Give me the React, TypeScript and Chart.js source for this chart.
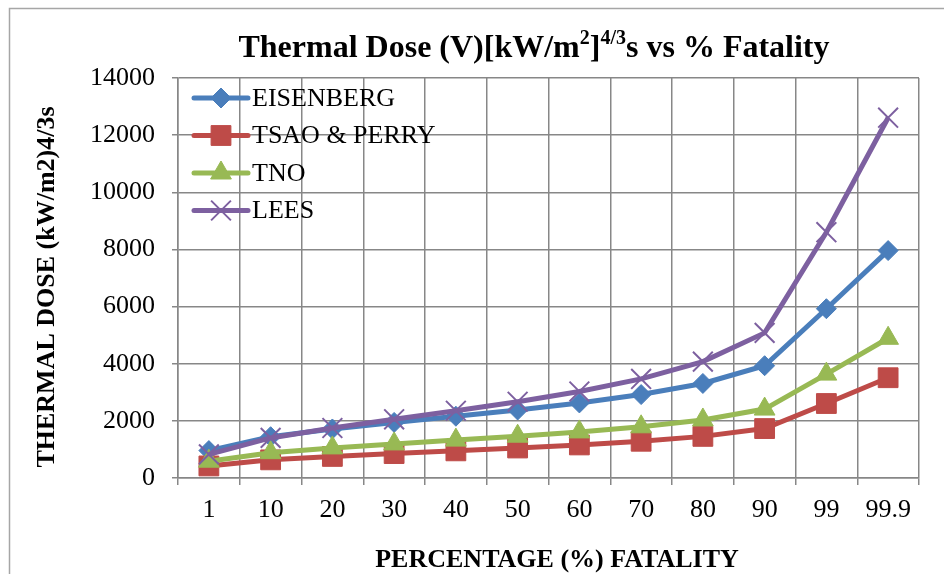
import React, { useEffect, useRef } from "react";
import { Chart, registerables } from "chart.js";
import { drawPoint } from "chart.js/helpers";

Chart.register(...registerables);

// Percentage fatality categories on the x axis
const categories = ["1", "10", "20", "30", "40", "50", "60", "70", "80", "90", "99", "99.9"];

// Thermal dose, (kW/m2)^4/3 s, for each probit model
const eisenberg = [960, 1445, 1716, 1945, 2162, 2380, 2628, 2920, 3309, 3930, 5925, 7960];
const tsaoPerry = [422, 635, 755, 855, 950, 1050, 1157, 1286, 1457, 1730, 2607, 3510];
const tno = [588, 886, 1053, 1193, 1326, 1463, 1613, 1792, 2031, 2412, 3636, 4890];
const lees = [828, 1403, 1750, 2055, 2354, 2669, 3027, 3467, 4073, 5078, 8602, 12610];

const seriesNames = ["EISENBERG", "TSAO & PERRY", "TNO", "LEES"];

const yMin = 0;
const yMax = 14000;
const yStep = 2000;

const SERIF = "'Liberation Serif', 'Times New Roman', serif";
const GRID = "#878787";

const titleParts = [
  { text: "Thermal Dose (V)[kW/m", sup: false },
  { text: "2", sup: true },
  { text: "]", sup: false },
  { text: "4/3", sup: true },
  { text: "s vs % Fatality", sup: false },
];

const decorPlugin = {
  id: "decor",
  afterDraw(chart: any) {
    const ctx: CanvasRenderingContext2D = chart.ctx;
    const area = chart.chartArea;
    ctx.save();

    // outer frame
    ctx.strokeStyle = "#A6A6A6";
    ctx.lineWidth = 1.5;
    ctx.beginPath();
    ctx.moveTo(9.5, chart.height + 5);
    ctx.lineTo(9.5, 8.5);
    ctx.lineTo(chart.width + 5, 8.5);
    ctx.stroke();

    // chart title with superscripts
    const mainFont = `bold 32px ${SERIF}`;
    const supFont = `bold 20px ${SERIF}`;
    let total = 0;
    const widths = titleParts.map((p) => {
      ctx.font = p.sup ? supFont : mainFont;
      const w = ctx.measureText(p.text).width;
      total += w;
      return w;
    });
    let x = 534 - total / 2;
    const base = 57;
    ctx.fillStyle = "#000";
    ctx.textAlign = "left";
    ctx.textBaseline = "alphabetic";
    titleParts.forEach((p, i) => {
      ctx.font = p.sup ? supFont : mainFont;
      ctx.fillText(p.text, x, p.sup ? base - 13 : base);
      x += widths[i];
    });

    // y axis title
    ctx.save();
    ctx.translate(47, (area.top + area.bottom) / 2 + 9);
    ctx.rotate(-Math.PI / 2);
    ctx.font = `bold 26px ${SERIF}`;
    ctx.textAlign = "center";
    ctx.textBaseline = "middle";
    ctx.fillText("THERMAL DOSE (kW/m2)4/3s", 0, 0);
    ctx.restore();

    // x axis title
    ctx.font = `bold 26px ${SERIF}`;
    ctx.textAlign = "center";
    ctx.textBaseline = "alphabetic";
    ctx.fillText("PERCENTAGE (%) FATALITY", 557, 567);

    // legend inside the plot area
    chart.data.datasets.forEach((ds: any, i: number) => {
      const y = 98 + i * 37.5;
      ctx.strokeStyle = ds.borderColor;
      ctx.lineWidth = ds.borderWidth;
      ctx.lineCap = "round";
      ctx.beginPath();
      ctx.moveTo(194, y);
      ctx.lineTo(248, y);
      ctx.stroke();
      ctx.fillStyle = ds.pointBackgroundColor;
      ctx.strokeStyle = ds.pointBorderColor;
      ctx.lineWidth = ds.pointBorderWidth;
      ctx.lineCap = "butt";
      drawPoint(ctx, { pointStyle: ds.pointStyle, radius: ds.pointRadius, rotation: 0, borderWidth: ds.pointBorderWidth }, 221, y);
      ctx.fillStyle = "#000";
      ctx.font = `26px ${SERIF}`;
      ctx.textAlign = "left";
      ctx.textBaseline = "middle";
      ctx.fillText(seriesNames[i], 252, y + 1);
    });

    ctx.restore();
  },
};

function series(label: string, data: number[], color: string, style: string, radius: number, pbw: number, order: number) {
  return {
    label,
    data,
    borderColor: color,
    backgroundColor: color,
    borderWidth: 5,
    tension: 0,
    pointStyle: style,
    pointRadius: radius,
    pointHoverRadius: radius,
    pointBackgroundColor: color,
    pointBorderColor: color,
    pointBorderWidth: pbw,
    order,
  };
}

export default function App() {
  const ref = useRef<HTMLCanvasElement | null>(null);

  useEffect(() => {
    if (!ref.current) return;
    const chart = new Chart(ref.current, {
      type: "line",
      data: {
        labels: categories,
        datasets: [
          series(seriesNames[0], eisenberg, "#4A7EBB", "rectRot", 10, 1, 3),
          series(seriesNames[1], tsaoPerry, "#BE4B48", "rect", 14, 1, 2),
          series(seriesNames[2], tno, "#98B954", "triangle", 12, 1, 1),
          series(seriesNames[3], lees, "#7D60A0", "crossRot", 14, 2, 0),
        ] as any,
      },
      options: {
        animation: false,
        responsive: false,
        layout: { padding: { left: 0, top: 78, right: 25, bottom: 0 } },
        plugins: {
          legend: { display: false },
          title: { display: false },
          tooltip: { enabled: false },
        },
        scales: {
          x: {
            type: "category",
            offset: true,
            grid: { offset: true, color: GRID, lineWidth: 1.5, tickLength: 7 },
            border: { color: GRID, width: 1.5 },
            ticks: { color: "#000", font: { family: SERIF, size: 26 }, padding: 10, maxRotation: 0, autoSkip: false },
            afterFit: (s: any) => {
              s.height = 96;
            },
          },
          y: {
            min: yMin,
            max: yMax,
            grid: { color: GRID, lineWidth: 1.5, tickLength: 6 },
            border: { color: GRID, width: 1.5 },
            ticks: {
              stepSize: yStep,
              color: "#000",
              font: { family: SERIF, size: 26 },
              padding: 17,
              callback: (v: any) => String(v),
            },
            afterFit: (s: any) => {
              s.width = 178;
            },
          },
        },
      },
      plugins: [decorPlugin],
    });
    return () => chart.destroy();
  }, []);

  return (
    <canvas
      ref={ref}
      width={944}
      height={574}
      style={{ position: "fixed", left: 0, top: 0, display: "block", background: "#fff" }}
    />
  );
}
